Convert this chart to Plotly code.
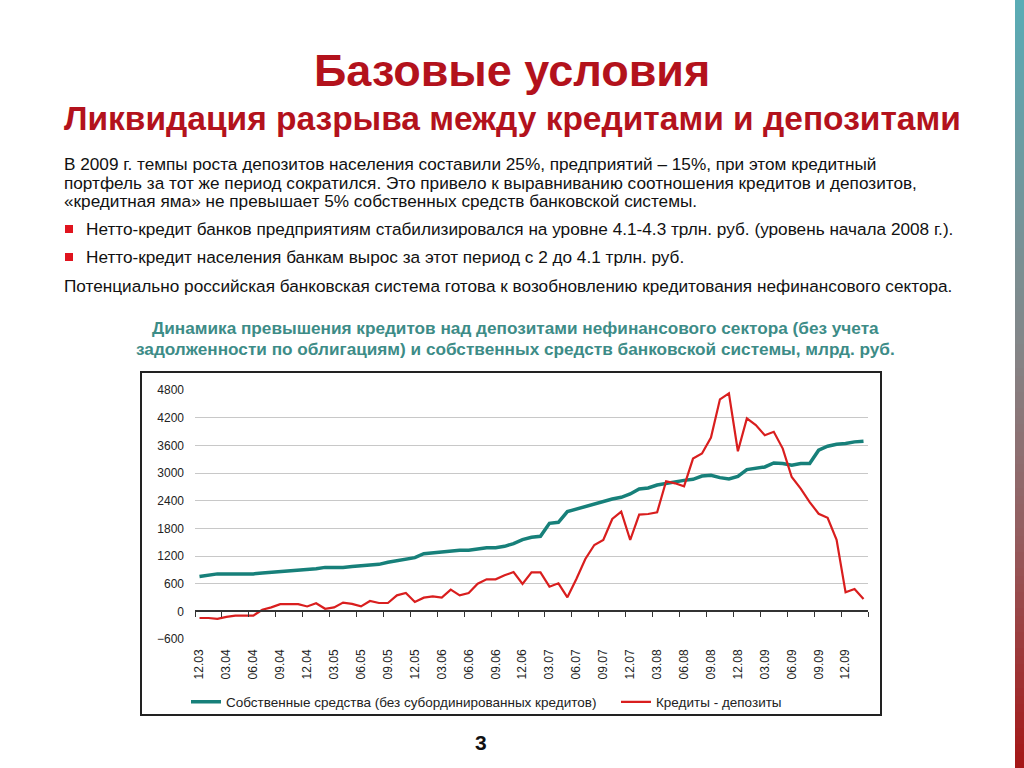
import plotly.graph_objects as go

# ---------------- data ----------------
months = [
    "12.03",
    "01.04", "02.04", "03.04", "04.04", "05.04", "06.04", "07.04", "08.04", "09.04", "10.04", "11.04", "12.04",
    "01.05", "02.05", "03.05", "04.05", "05.05", "06.05", "07.05", "08.05", "09.05", "10.05", "11.05", "12.05",
    "01.06", "02.06", "03.06", "04.06", "05.06", "06.06", "07.06", "08.06", "09.06", "10.06", "11.06", "12.06",
    "01.07", "02.07", "03.07", "04.07", "05.07", "06.07", "07.07", "08.07", "09.07", "10.07", "11.07", "12.07",
    "01.08", "02.08", "03.08", "04.08", "05.08", "06.08", "07.08", "08.08", "09.08", "10.08", "11.08", "12.08",
    "01.09", "02.09", "03.09", "04.09", "05.09", "06.09", "07.09", "08.09", "09.09", "10.09", "11.09", "12.09",
    "01.10", "02.10",
]

tick_labels = ["12.03", "03.04", "06.04", "09.04", "12.04", "03.05", "06.05", "09.05", "12.05",
               "03.06", "06.06", "09.06", "12.06", "03.07", "06.07", "09.07", "12.07",
               "03.08", "06.08", "09.08", "12.08", "03.09", "06.09", "09.09", "12.09"]

own_funds = [
    755,
    784, 812, 812, 812, 812, 812, 833, 847, 861, 883, 883, 911,
    925, 953, 953, 953, 974, 990, 998, 1019, 1063, 1092, 1121, 1164,
    1251, 1272, 1280, 1301, 1323, 1323, 1345, 1381, 1381, 1410, 1468, 1554,
    1605, 1627, 1909, 1930, 2162, 2220, 2270, 2328, 2379, 2437, 2473, 2545,
    2653, 2675, 2740, 2776, 2798, 2840, 2863, 2935, 2950, 2900, 2870, 2928,
    3073, 3095, 3131, 3218, 3204, 3167, 3204, 3204, 3494, 3581, 3625, 3639,
    3675, 3690,
]

loans_minus_deposits = [
    -145,
    -145, -165, -120, -92, -92, -92, 35, 85, 155, 155, 155, 106,
    176, 56, 85, 190, 162, 108, 224, 181, 181, 347, 398, 202,
    296, 325, 296, 470, 347, 398, 600, 694, 694, 781, 853, 593,
    846, 846, 535, 607, 304, 701, 1135, 1439, 1547, 2003, 2162, 1547,
    2097, 2111, 2147, 2820, 2776, 2710, 3313, 3422, 3770, 4597, 4727, 3472,
    4183, 4038, 3820, 3893, 3530, 2914, 2660, 2370, 2116, 2029, 1550, 411,
    483, 266,
]

series_names = ["Собственные средства (без субординированных кредитов)", "Кредиты - депозиты"]

# ---------------- layout helpers ----------------
W_PX, H_PX = 1024, 768
L, R, T, B = 195, 868, 390, 639
Y_MIN, Y_MAX = -600, 4800


def px(x):
    return (x - L) / (R - L)


def py(y):
    return (B - y) / (B - T)


TEAL = "#17807a"
RED = "#d91e1e"
TITLE_RED = "#b3121c"
CHART_TITLE = "#3d8c87"
FONT = "Liberation Sans, Arial, sans-serif"
NARROW = "Liberation Sans Narrow, Arial Narrow, Liberation Sans, sans-serif"

fig = go.Figure()
fig.add_trace(go.Scatter(x=months, y=own_funds, mode="lines", name=series_names[0],
                         line=dict(color=TEAL, width=3.5), hoverinfo="skip", legend="legend"))
fig.add_trace(go.Scatter(x=months, y=loans_minus_deposits, mode="lines", name=series_names[1],
                         line=dict(color=RED, width=2.2), hoverinfo="skip", legend="legend2"))
# helper trace so that the zero-axis (xaxis2) is rendered
fig.add_trace(go.Scatter(x=[-0.5, len(months) - 0.5], y=[0, 0], xaxis="x2", mode="lines",
                         line=dict(width=0, color="rgba(0,0,0,0)"), showlegend=False, hoverinfo="skip"))

annotations = []


def text(x, y, s, size, color="#111111", bold=False, xanchor="left", family=FONT):
    if bold:
        s = "<b>" + s + "</b>"
    annotations.append(dict(x=px(x), y=py(y), xref="paper", yref="paper", text=s, showarrow=False,
                            xanchor=xanchor, yanchor="middle",
                            font=dict(size=size, color=color, family=family)))


text(512, 70, "Базовые условия", 45, TITLE_RED, True, "center")
text(512, 118, "Ликвидация разрыва между кредитами и депозитами", 33.5, TITLE_RED, True, "center")

BODY = 17.2
text(62, 164, "В 2009 г. темпы роста депозитов населения составили 25%, предприятий – 15%, при этом кредитный", BODY)
text(62, 183, "портфель за тот же период сократился. Это привело к выравниванию соотношения кредитов и депозитов,", BODY)
text(62, 201, "«кредитная яма» не превышает 5% собственных средств банковской системы.", BODY)
text(84, 229, "Нетто-кредит банков предприятиям стабилизировался на уровне 4.1-4.3 трлн. руб. (уровень начала 2008 г.).", BODY)
text(84, 257, "Нетто-кредит населения банкам вырос за этот период с 2 до 4.1 трлн. руб.", BODY)
text(62, 286, "Потенциально российская банковская система готова к возобновлению кредитования нефинансового сектора.", BODY)

text(515, 328, "Динамика превышения кредитов над депозитами нефинансового сектора (без учета", 17.2, CHART_TITLE, True, "center")
text(515, 349, "задолженности по облигациям) и собственных средств банковской системы, млрд. руб.", 17.2, CHART_TITLE, True, "center")

text(481, 742, "3", 21, "#111111", True, "center")

shapes = []
# red bullet squares
for by in (229, 257):
    shapes.append(dict(type="rect", xref="paper", yref="paper",
                       x0=px(65), x1=px(73), y0=py(by - 4), y1=py(by + 4),
                       fillcolor="#e0141e", line=dict(width=0)))
# chart frame
shapes.append(dict(type="rect", xref="paper", yref="paper",
                   x0=px(141), x1=px(881), y0=py(715), y1=py(372),
                   line=dict(color="#222222", width=2), fillcolor="rgba(0,0,0,0)", layer="below"))

# right decorative gradient stripe
stops = [(0.0, (90, 172, 182)), (0.45, (132, 134, 136)), (0.7, (148, 92, 94)), (1.0, (165, 22, 22))]


def grad(t):
    for (t0, c0), (t1, c1) in zip(stops[:-1], stops[1:]):
        if t0 <= t <= t1:
            f = (t - t0) / (t1 - t0)
            return "rgb(%d,%d,%d)" % tuple(round(a + (b - a) * f) for a, b in zip(c0, c1))
    return "rgb(%d,%d,%d)" % stops[-1][1]


N = 96
for i in range(N):
    y0 = H_PX * i / N
    y1 = H_PX * (i + 1) / N + 0.6
    shapes.append(dict(type="rect", xref="paper", yref="paper",
                       x0=px(1015), x1=px(1025), y0=py(min(y1, H_PX)), y1=py(y0),
                       fillcolor=grad((i + 0.5) / N), line=dict(width=0)))

legend_common = dict(orientation="h", yanchor="middle", xanchor="left",
                     font=dict(size=13.5, color="#222222", family=NARROW),
                     bgcolor="rgba(0,0,0,0)", itemwidth=30, tracegroupgap=0)

fig.update_layout(
    width=W_PX, height=H_PX, autosize=False,
    margin=dict(l=L, r=W_PX - R, t=T, b=H_PX - B, pad=0),
    paper_bgcolor="white", plot_bgcolor="white",
    font=dict(family=FONT, color="#222222"),
    xaxis=dict(type="category", range=[-0.5, len(months) - 0.5], tickmode="array",
               tickvals=tick_labels, ticktext=tick_labels, tickangle=-90,
               tickfont=dict(size=12, color="#222222", family=FONT),
               showgrid=False, zeroline=False, showline=False, ticks="", ticklabelstandoff=7),
    xaxis2=dict(type="linear", overlaying="x", anchor="free", position=(0 - Y_MIN) / (Y_MAX - Y_MIN),
                range=[-0.5, len(months) - 0.5], tickmode="linear", tick0=-0.5, dtick=3,
                showticklabels=False, ticks="outside", ticklen=5, tickcolor="#333333", tickwidth=1,
                showline=True, linecolor="#333333", linewidth=1.5, showgrid=False, zeroline=False),
    yaxis=dict(range=[Y_MIN, Y_MAX], tickmode="linear", tick0=0, dtick=600,
               tickfont=dict(size=12, color="#222222", family=FONT),
               showgrid=True, gridcolor="#c8c8c8", gridwidth=1, zeroline=False,
               showline=False, ticks="", ticklabelstandoff=10),
    legend=dict(x=px(186), y=py(702), **legend_common),
    legend2=dict(x=px(616), y=py(702), **legend_common),
    annotations=annotations,
    shapes=shapes,
)

fig.write_html("out.html", config={"displayModeBar": False},
               post_script="document.body.style.margin='0';document.body.style.padding='0';")
